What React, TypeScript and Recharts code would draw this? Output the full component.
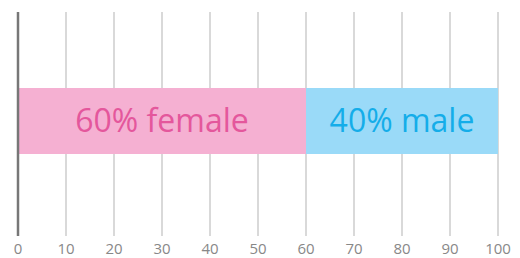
import React from 'react';
import { BarChart, Bar, XAxis, YAxis, CartesianGrid, LabelList, ReferenceLine } from 'recharts';

const categories = ['gender'];
const femaleValues = [60];
const maleValues = [40];
const femaleLabels = ['60% female'];
const maleLabels = ['40% male'];
const xTicks = [0, 10, 20, 30, 40, 50, 60, 70, 80, 90, 100];

const data = categories.map((c, i) => ({
  name: c,
  female: femaleValues[i],
  male: maleValues[i],
  femaleLabel: femaleLabels[i],
  maleLabel: maleLabels[i],
}));

const FONT = '"Open Sans", sans-serif';

export default function App() {
  return (
    <div style={{ position: 'absolute', left: 0, top: 0, background: '#fff' }}>
      <BarChart
        width={520}
        height={258}
        data={data}
        layout="vertical"
        margin={{ top: 12, right: 22, bottom: 0, left: 18 }}
        barCategoryGap={0}
      >
        <CartesianGrid horizontal={false} stroke="#cccccc" strokeWidth={1.5} />
        <XAxis
          type="number"
          domain={[0, 100]}
          ticks={xTicks}
          axisLine={false}
          tickLine={false}
          height={22}
          tickMargin={1}
          tick={{ fill: '#888888', fontSize: 15, fontFamily: FONT }}
          interval={0}
        />
        <YAxis
          type="category"
          dataKey="name"
          width={0}
          tick={false}
          tickLine={false}
          axisLine={false}
          padding={{ top: 0, bottom: 7 }}
        />
        <Bar dataKey="female" stackId="a" fill="#f5b0d2" barSize={66} isAnimationActive={false}>
          <LabelList dataKey="femaleLabel" position="center" fill="#e4579c" style={{ fontSize: 32, fontFamily: FONT }} />
        </Bar>
        <Bar dataKey="male" stackId="a" fill="#9adaf8" barSize={66} isAnimationActive={false}>
          <LabelList dataKey="maleLabel" position="center" fill="#14ade9" style={{ fontSize: 32, fontFamily: FONT }} />
        </Bar>
        <ReferenceLine x={0} stroke="#777777" strokeWidth={2.5} />
      </BarChart>
    </div>
  );
}
